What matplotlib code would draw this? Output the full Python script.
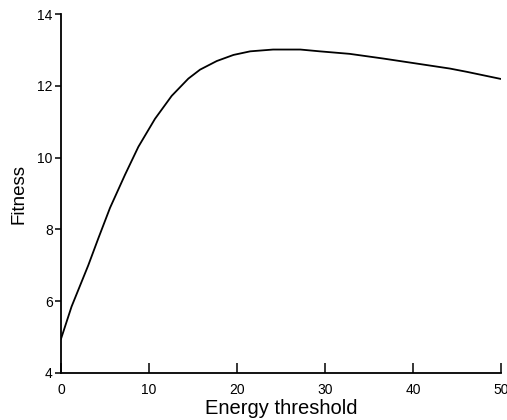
import matplotlib
matplotlib.use("Agg")
import matplotlib.pyplot as plt

plt.rcParams['font.family'] = ['Liberation Sans', 'DejaVu Sans']

energy = [0, 1.2, 3.1, 4.24, 5.57, 7.27, 8.79, 10.68, 12.58, 14.47, 15.8, 17.7,
          19.6, 21.5, 24.1, 27.2, 29.4, 32.8, 36.6, 40.4, 44.2, 46.1, 50]
fitness = [4.95, 5.85, 7.0, 7.75, 8.6, 9.52, 10.3, 11.08, 11.72, 12.2, 12.45, 12.69,
           12.86, 12.96, 13.01, 13.01, 12.96, 12.89, 12.76, 12.62, 12.48, 12.39, 12.19]
xticks = [0, 10, 20, 30, 40, 50]
yticks = [4, 6, 8, 10, 12, 14]

fig = plt.figure(figsize=(5.07, 4.20), dpi=100)
ax = fig.add_axes([61/507, (420-373)/420, (501-61)/507, (373-14)/420])
ax.plot(energy, fitness, color='black', lw=1.3, solid_joinstyle='round')
ax.set_xlim(0, 50)
ax.set_ylim(4, 14)
ax.set_xticks(xticks)
ax.set_yticks(yticks)
ax.spines['top'].set_visible(False)
ax.spines['right'].set_visible(False)
for s in ['left', 'bottom']:
    ax.spines[s].set_linewidth(1.3)
ax.tick_params(axis='x', direction='in', length=7, width=1.1, labelsize=10, pad=7)
ax.tick_params(axis='y', direction='out', length=4, width=1.1, labelsize=10, pad=2)
ax.set_xlabel('Energy threshold', fontsize=14.5, labelpad=2)
ax.set_ylabel('Fitness', fontsize=13.5, labelpad=7)
fig.savefig('out.png', dpi=100)
